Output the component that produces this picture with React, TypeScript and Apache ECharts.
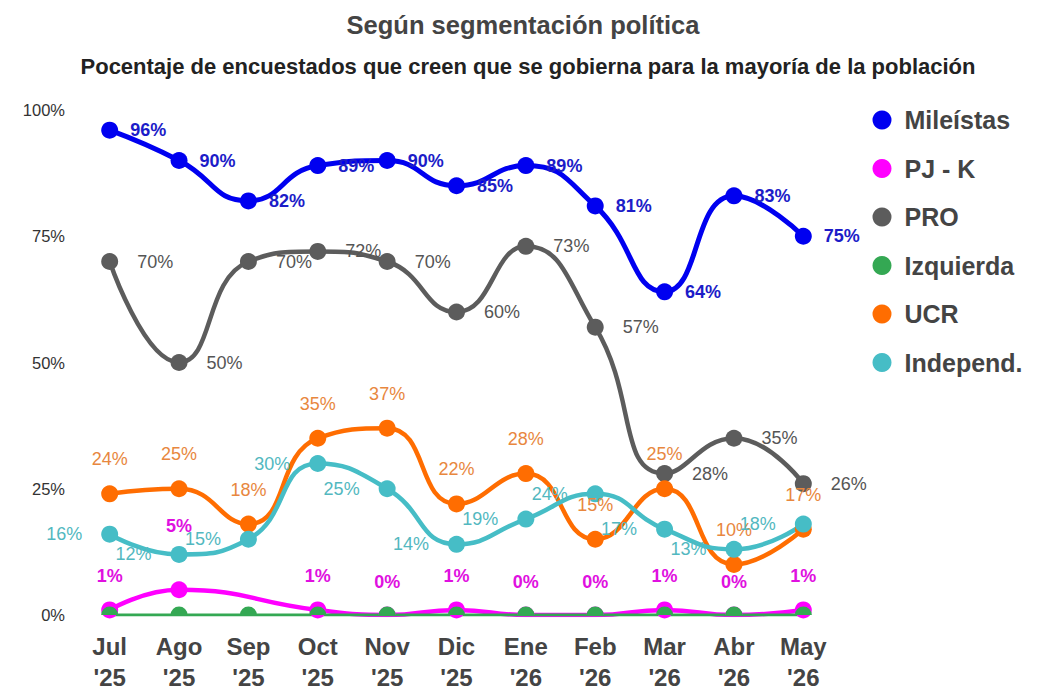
import React, { useEffect, useRef } from "react";
import * as echarts from "echarts";

const categories = ["Jul\n'25", "Ago\n'25", "Sep\n'25", "Oct\n'25", "Nov\n'25", "Dic\n'25", "Ene\n'26", "Feb\n'26", "Mar\n'26", "Abr\n'26", "May\n'26"];
const mileistas = [96, 90, 82, 89, 90, 85, 89, 81, 64, 83, 75];
const pjk: (number | null)[] = [1, 5, null, 1, 0, 1, 0, 0, 1, 0, 1];
const pro = [70, 50, 70, 72, 70, 60, 73, 57, 28, 35, 26];
const izquierda = [0, 0, 0, 0, 0, 0, 0, 0, 0, 0, 0];
const ucr = [24, 25, 18, 35, 37, 22, 28, 15, 25, 10, 17];
const independ = [16, 12, 15, 30, 25, 14, 19, 24, 17, 13, 18];
const yTicks = [0, 25, 50, 75, 100];

const FONT = "Liberation Sans, Arial, sans-serif";
const HALF = "path://M0 10 A10 10 0 0 1 20 10 Z";

export default function App() {
  const ref = useRef<HTMLDivElement>(null);
  useEffect(() => {
    document.body.style.margin = "0";
    const chart = echarts.init(ref.current!, null, { renderer: "svg" });
    const pct = (p: any) => (p.value == null ? "" : p.value + "%");
    // points sitting on the 0 baseline are clipped to a half disc, as in the original
    const clipZero = (arr: (number | null)[]) =>
      arr.map((v) =>
        v === 0 ? { value: v, symbol: HALF, symbolSize: [17, 8.5], symbolOffset: [0, -4.25] } : v
      );
    const lineSeries = (name: string, data: any[], color: string, label: any, extra: any = {}) => ({
      name,
      type: "line",
      data,
      smooth: 0.5,
      symbol: "circle",
      symbolSize: 17,
      lineStyle: { color, width: 4.5 },
      itemStyle: { color },
      label: { show: true, formatter: pct, fontFamily: FONT, ...label },
      ...extra,
    });
    chart.setOption({
      animation: false,
      backgroundColor: "#ffffff",
      textStyle: { fontFamily: FONT },
      title: [
        {
          text: "Según segmentación política",
          left: "center",
          top: 7,
          textStyle: { fontSize: 25.5, fontWeight: "bold", color: "#444", fontFamily: FONT },
        },
        {
          text: "Pocentaje de encuestados que creen que se gobierna para la mayoría de la población",
          left: 523,
          textAlign: "center",
          top: 50,
          textStyle: { fontSize: 22, fontWeight: "bold", color: "#222", fontFamily: FONT },
        },
      ],
      legend: {
        orient: "vertical",
        left: 867.5,
        top: 102.5,
        itemWidth: 35,
        itemHeight: 19,
        itemGap: 23.5,
        icon: "circle",
        symbolKeepAspect: true,
        textStyle: { fontSize: 25, fontWeight: "bold", color: "#444", fontFamily: FONT },
        data: ["Mileístas", "PJ - K", "PRO", "Izquierda", "UCR", "Independ."],
      },
      grid: { left: 75, right: 208, top: 110, bottom: 75 },
      xAxis: {
        type: "category",
        data: categories,
        boundaryGap: true,
        axisLine: { show: false },
        axisTick: { show: false },
        splitLine: { show: false },
        axisLabel: {
          fontSize: 24,
          fontWeight: "bold",
          color: "#444",
          lineHeight: 31,
          margin: 16,
          fontFamily: FONT,
        },
      },
      yAxis: {
        type: "value",
        min: yTicks[0],
        max: yTicks[yTicks.length - 1],
        interval: 25,
        axisLine: { show: false },
        axisTick: { show: false },
        splitLine: { show: false },
        axisLabel: { formatter: "{value}%", fontSize: 16.5, color: "#333", margin: 10, fontFamily: FONT },
      },
      series: [
        lineSeries("Mileístas", mileistas, "#0000f0", {
          position: "right",
          distance: 12,
          fontSize: 18,
          fontWeight: "bold",
          color: "#1c1cc8",
        }, { lineStyle: { color: "#0000f0", width: 5 } }),
        lineSeries(
          "PJ - K",
          clipZero(pjk).map((v, i) => (i === 1 ? { value: v, label: { distance: 46 } } : v)),
          "#ff00ff",
          { position: "top", distance: 16, fontSize: 18, fontWeight: "bold", color: "#e010e0" },
          { connectNulls: true }
        ),
        lineSeries("PRO", pro, "#5c5c5c", {
          position: "right",
          distance: 19,
          fontSize: 18,
          color: "#555",
        }),
        lineSeries("Izquierda", clipZero(izquierda), "#34a853", { show: false }, { lineStyle: { color: "#34a853", width: 3 } }),
        lineSeries("UCR", ucr, "#ff6d01", {
          position: "top",
          distance: 17,
          fontSize: 18,
          color: "#e8873e",
        }),
        lineSeries("Independ.", independ, "#46bdc6", {
          position: "left",
          distance: 19,
          fontSize: 18,
          color: "#52b8c0",
        }),
      ],
    });
    return () => chart.dispose();
  }, []);
  return <div ref={ref} style={{ width: 1046, height: 693 }} />;
}
